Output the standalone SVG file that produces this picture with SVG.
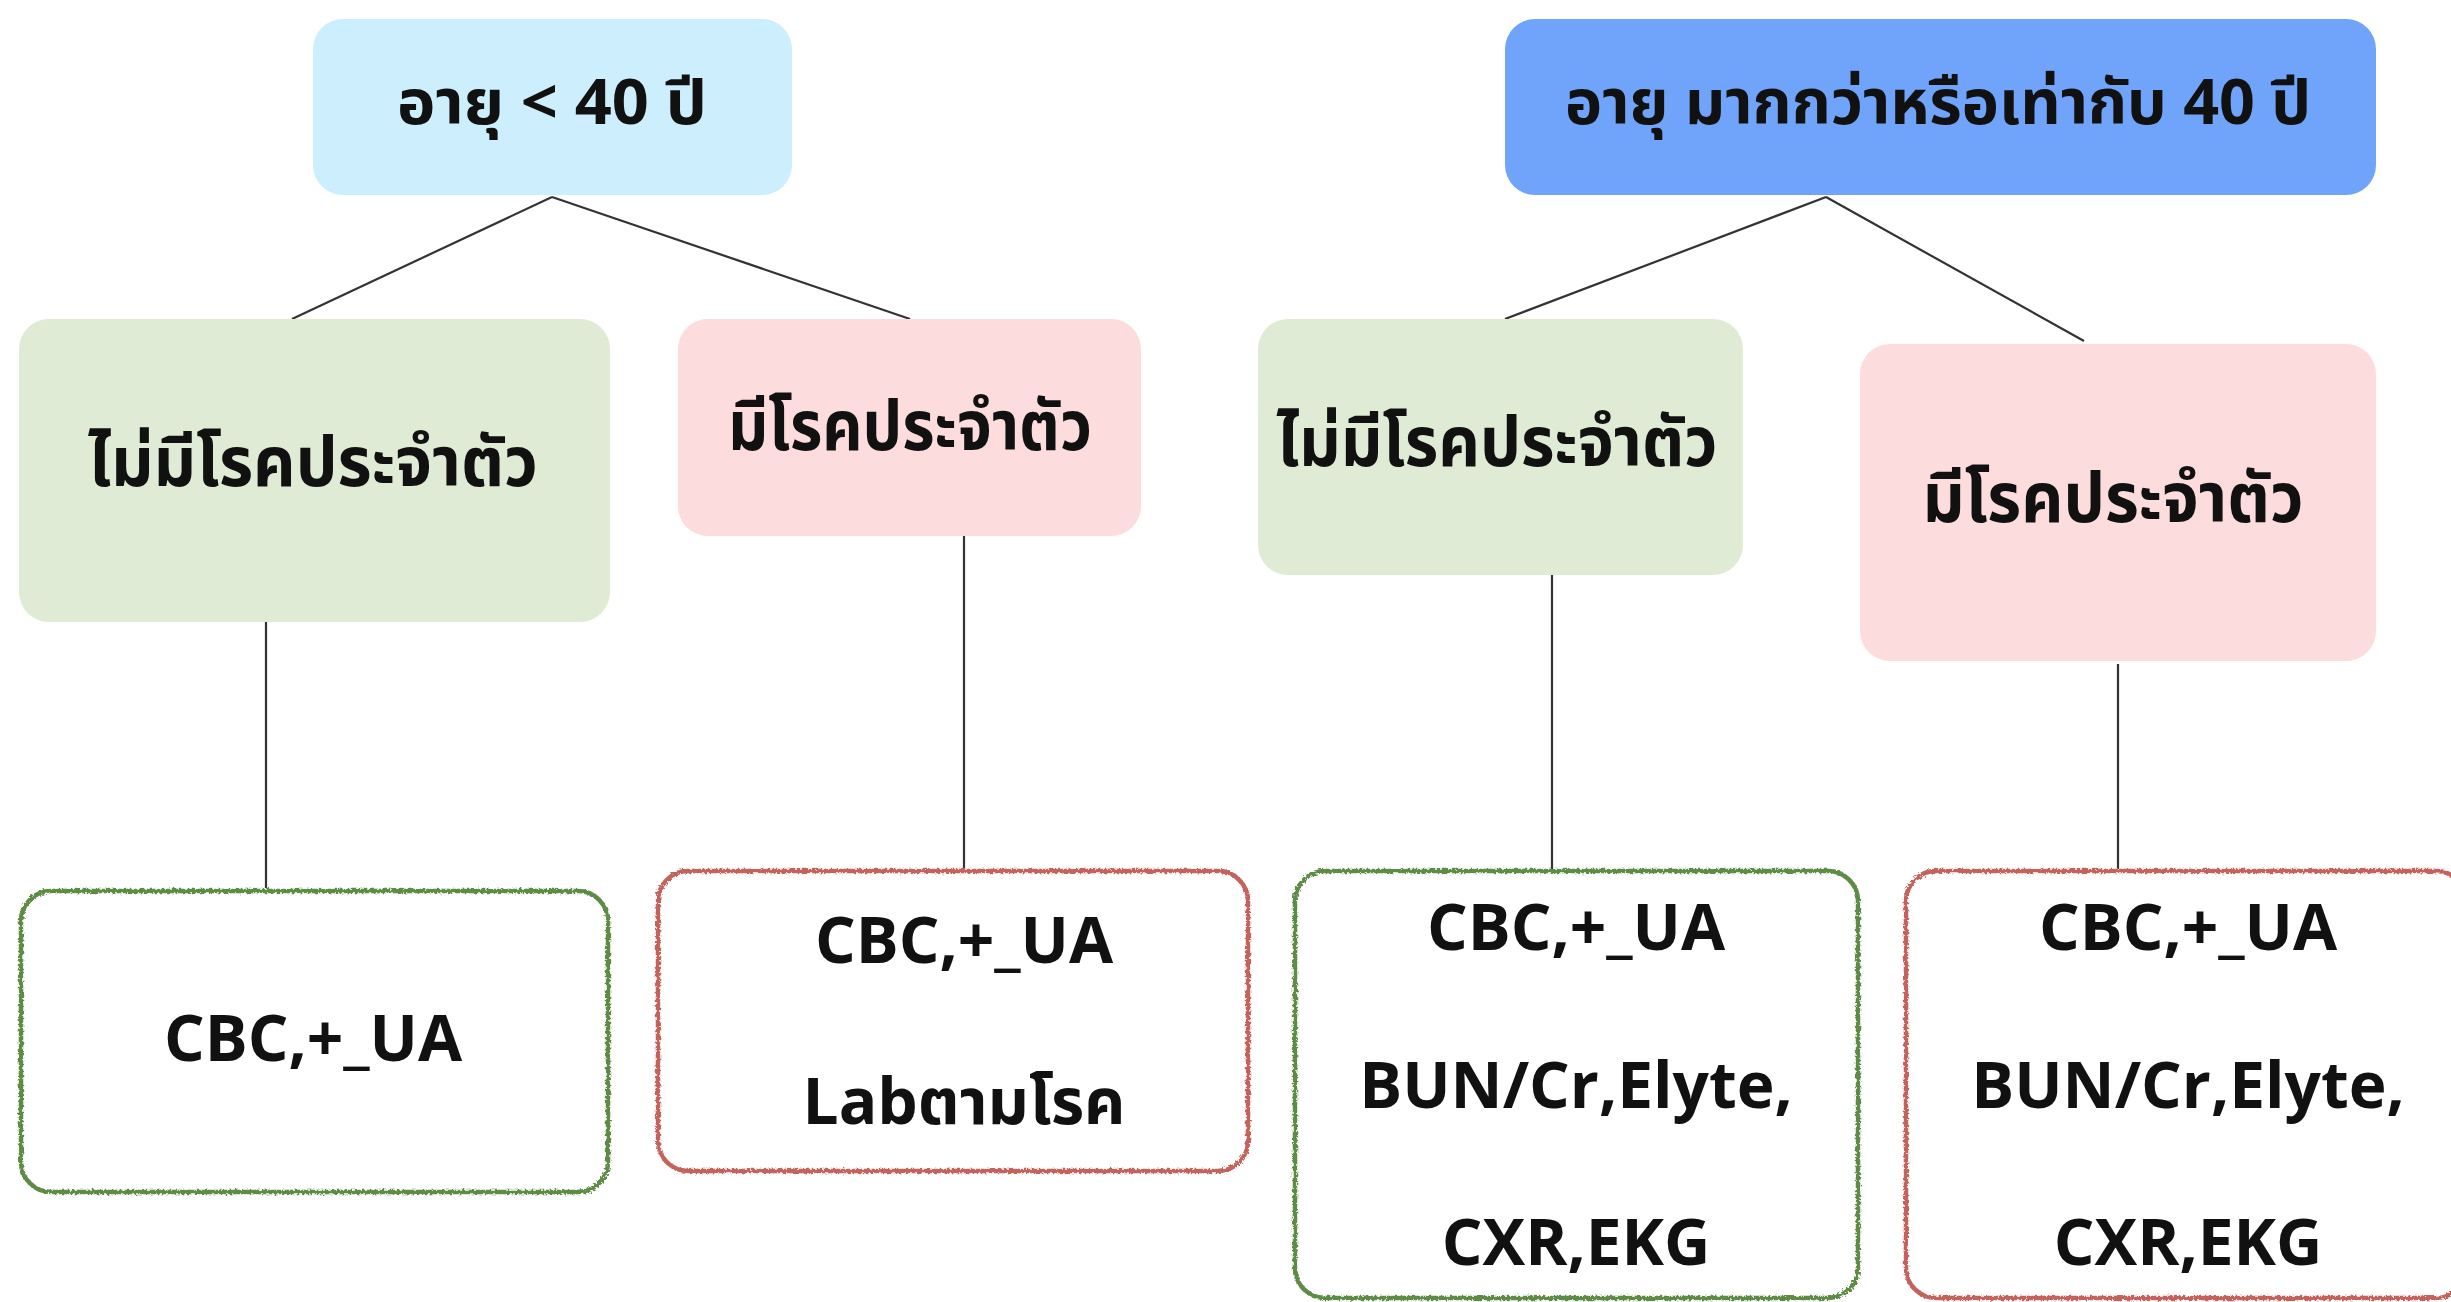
<svg xmlns="http://www.w3.org/2000/svg" width="2451" height="1302" viewBox="0 0 2451 1302">
<defs>
<style>
.t{font-family:"Noto Sans Thai","Noto Sans","Open Sans",sans-serif;font-weight:700;fill:#111;text-anchor:middle;dominant-baseline:central}
.top{font-size:62px}
.th{font-size:70px}
.lab{font-family:"Open Sans","Noto Sans Thai",sans-serif;font-weight:700;font-size:64px;fill:#111;text-anchor:middle;dominant-baseline:central}
.conn{stroke:#333;stroke-width:2.2;fill:none}
.g{fill:#fff;stroke:#5e8c45;stroke-width:4.5}
.r{fill:#fff;stroke:#c4625c;stroke-width:4.5}
</style>
<filter id="rough" x="-5%" y="-5%" width="110%" height="110%">
<feTurbulence type="fractalNoise" baseFrequency="0.4" numOctaves="2" seed="3"/>
<feDisplacementMap in="SourceGraphic" scale="5"/>
</filter>
</defs>
<rect width="2451" height="1302" fill="#fff"/>
<g id="connectors">
<line class="conn" x1="552" y1="197" x2="292" y2="319"/>
<line class="conn" x1="552" y1="197" x2="910" y2="319"/>
<line class="conn" x1="1826" y1="197" x2="1505" y2="319"/>
<line class="conn" x1="1826" y1="197" x2="2084" y2="341"/>
<line class="conn" x1="266" y1="622" x2="266" y2="888"/>
<line class="conn" x1="964" y1="536" x2="964" y2="869"/>
<line class="conn" x1="1552" y1="575" x2="1552" y2="869"/>
<line class="conn" x1="2118" y1="664" x2="2118" y2="869"/>
</g>
<g id="age-under40">
<rect x="313" y="19" width="479" height="176" rx="30" fill="#cdeefc"/>
<text class="t top" x="552" y="105" textLength="310" lengthAdjust="spacingAndGlyphs">อายุ &lt; 40 ปี</text>
</g>
<g id="age-40plus">
<rect x="1505" y="19" width="871" height="176" rx="30" fill="#70a4fa"/>
<text class="t top" x="1938" y="105" textLength="746" lengthAdjust="spacingAndGlyphs">อายุ มากกว่าหรือเท่ากับ 40 ปี</text>
</g>
<g id="young-healthy">
<rect x="19" y="319" width="591" height="303" rx="30" fill="#dfebd5"/>
<text class="t th" x="313" y="465" textLength="450" lengthAdjust="spacingAndGlyphs">ไม่มีโรคประจำตัว</text>
</g>
<g id="young-disease">
<rect x="678" y="319" width="463" height="217" rx="30" fill="#fcdcdc"/>
<text class="t th" x="910" y="429" textLength="364" lengthAdjust="spacingAndGlyphs">มีโรคประจำตัว</text>
</g>
<g id="old-healthy">
<rect x="1258" y="319" width="485" height="256" rx="30" fill="#dfebd5"/>
<text class="t th" x="1497" y="445" textLength="441" lengthAdjust="spacingAndGlyphs">ไม่มีโรคประจำตัว</text>
</g>
<g id="old-disease">
<rect x="1860" y="344" width="516" height="317" rx="30" fill="#fcdcdc"/>
<text class="t th" x="2113" y="501" textLength="381" lengthAdjust="spacingAndGlyphs">มีโรคประจำตัว</text>
</g>
<g id="lab-young-healthy">
<rect class="g" filter="url(#rough)" x="21" y="891" width="587" height="301" rx="30"/>
<text class="lab" x="313" y="1036">CBC,+_UA</text>
</g>
<g id="lab-young-disease">
<rect class="r" filter="url(#rough)" x="658" y="871" width="590" height="300" rx="30"/>
<text class="lab" x="964" y="938">CBC,+_UA</text>
<text class="lab" x="964" y="1099">Labตามโรค</text>
</g>
<g id="lab-old-healthy">
<rect class="g" filter="url(#rough)" x="1295" y="871" width="563" height="427" rx="30"/>
<text class="lab" x="1576" y="925">CBC,+_UA</text>
<text class="lab" x="1576" y="1083">BUN/Cr,Elyte,</text>
<text class="lab" x="1576" y="1240">CXR,EKG</text>
</g>
<g id="lab-old-disease">
<rect class="r" filter="url(#rough)" x="1906" y="871" width="560" height="427" rx="30"/>
<text class="lab" x="2188" y="925">CBC,+_UA</text>
<text class="lab" x="2188" y="1083">BUN/Cr,Elyte,</text>
<text class="lab" x="2188" y="1240">CXR,EKG</text>
</g>
</svg>
